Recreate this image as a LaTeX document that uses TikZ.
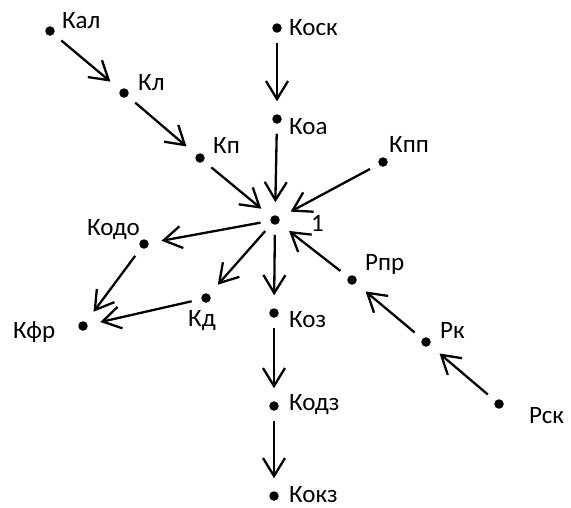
\documentclass[tikz,border=0pt]{standalone}
\usepackage{fontspec}
\setmainfont{Carlito}
\usetikzlibrary{arrows.meta}
\begin{document}
\begin{tikzpicture}[x=1pt,y=-1pt,
  dot/.style={circle,fill=black,inner sep=0pt,minimum size=9.5pt,outer sep=0pt},
  lbl/.style={anchor=base west,inner sep=0pt,font=\fontsize{25}{29}\selectfont},
  arr/.style={line width=2.3pt,-{Straight Barb[length=18pt,width=22pt,line width=2.3pt]},shorten <=10pt,shorten >=13pt}]
\useasboundingbox (0,0) rectangle (571,507);
% dots
\node[dot] (kal) at (50,31) {};
\node[dot] (kl) at (124,93) {};
\node[dot] (kp) at (200,158) {};
\node[dot] (kosk) at (277,28) {};
\node[dot] (koa) at (277,119) {};
\node[dot] (kpp) at (383,162) {};
\node[dot] (c) at (275,220) {};
\node[dot] (kodo) at (144,244) {};
\node[dot] (kd) at (206,298) {};
\node[dot] (kfr) at (83,326) {};
\node[dot] (koz) at (274,313) {};
\node[dot] (kodz) at (274,406) {};
\node[dot] (kokz) at (274,496) {};
\node[dot] (rpr) at (352,280) {};
\node[dot] (rk) at (426,342) {};
\node[dot] (rsk) at (499,404) {};
% labels
\node[lbl] (tkal) at (62,28) {Кал};
\node[lbl] (tkl) at (138,90) {Кл};
\node[lbl] (tkp) at (213,153) {Кп};
\node[lbl] (tkosk) at (289,35) {Коск};
\node[lbl] (tkoa) at (289,134) {Коа};
\node[lbl] (tkpp) at (389,152) {Кпп};
\node[lbl] (t1) at (311,231) {1};
\node[lbl] (tkodo) at (87,235) {Кодо};
\node[lbl] (tkd) at (188,326) {Кд};
\node[lbl] (tkfr) at (13,338) {Кфр};
\node[lbl] (tkoz) at (289,327) {Коз};
\node[lbl] (tkodz) at (289,410) {Кодз};
\node[lbl] (tkokz) at (289,502) {Кокз};
\node[lbl] (trpr) at (365,270) {Рпр};
\node[lbl] (trk) at (440,338) {Рк};
\node[lbl] (trsk) at (529,423) {Рск};
% arrows
\draw[arr] (kal) -- (kl);
\draw[arr] (kl) -- (kp);
\draw[arr] (kp) -- (c);
\draw[arr] (kosk) -- (koa);
\draw[arr] (koa) -- (c);
\draw[arr] (kpp) -- (c);
\draw[arr] (c) -- (kodo);
\draw[arr] (c) -- (kd);
\draw[arr] (c) -- (koz);
\draw[arr] (kodo) -- (kfr);
\draw[arr] (kd) -- (kfr);
\draw[arr] (koz) -- (kodz);
\draw[arr] (kodz) -- (kokz);
\draw[arr] (rpr) -- (c);
\draw[arr] (rk) -- (rpr);
\draw[arr] (rsk) -- (rk);
\end{tikzpicture}
\end{document}
